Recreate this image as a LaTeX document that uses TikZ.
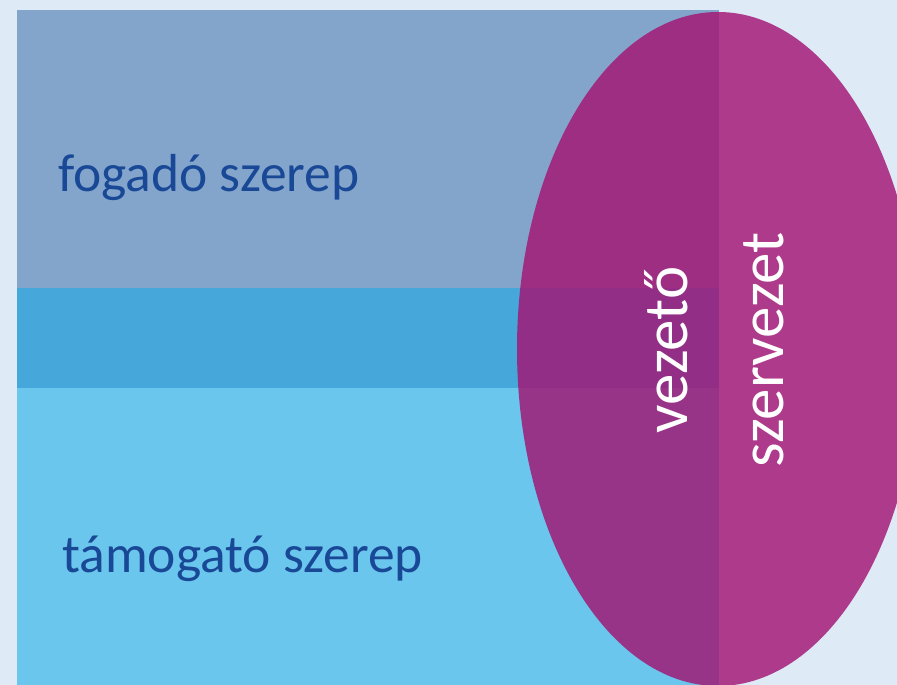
\documentclass[tikz,border=0pt]{standalone}
\usepackage{fontspec}
\setmainfont{Carlito}
\definecolor{bgc}{RGB}{222,234,246}
\definecolor{topc}{RGB}{132,165,203}
\definecolor{midc}{RGB}{69,167,218}
\definecolor{botc}{RGB}{106,198,236}
\definecolor{ellc}{RGB}{163,20,115}
\definecolor{txtc}{RGB}{24,72,150}
\tikzset{
  band/.style={draw=none},
  roletext/.style={text=txtc, anchor=base west, inner sep=0pt, font=\fontsize{53.5}{60}\selectfont},
  elltext/.style={text=white, rotate=90, inner sep=0pt, font=\fontsize{63}{70}\selectfont}
}
\begin{document}
\begin{tikzpicture}[x=1pt,y=1pt]
\useasboundingbox (0,0) rectangle (897,685);
\fill[bgc] (0,0) rectangle (897,685);
\begin{scope}
\clip (0,0) rectangle (897,685);
\fill[topc,band] (17,675) rectangle (719,397);
\fill[midc,band] (17,397) rectangle (719,297);
\fill[botc,band] (17,297) rectangle (719,0);
\fill[ellc,opacity=0.82] (718,336) ellipse [x radius=201, y radius=337];
\end{scope}
\node[roletext] (fog) at (58,493) {fogadó szerep};
\node[roletext] (tam) at (62,112) {támogató szerep};
\node[elltext] (vez) at (666,335) {vezető};
\node[elltext] (szer) at (764,335) {szervezet};
\end{tikzpicture}
\end{document}
